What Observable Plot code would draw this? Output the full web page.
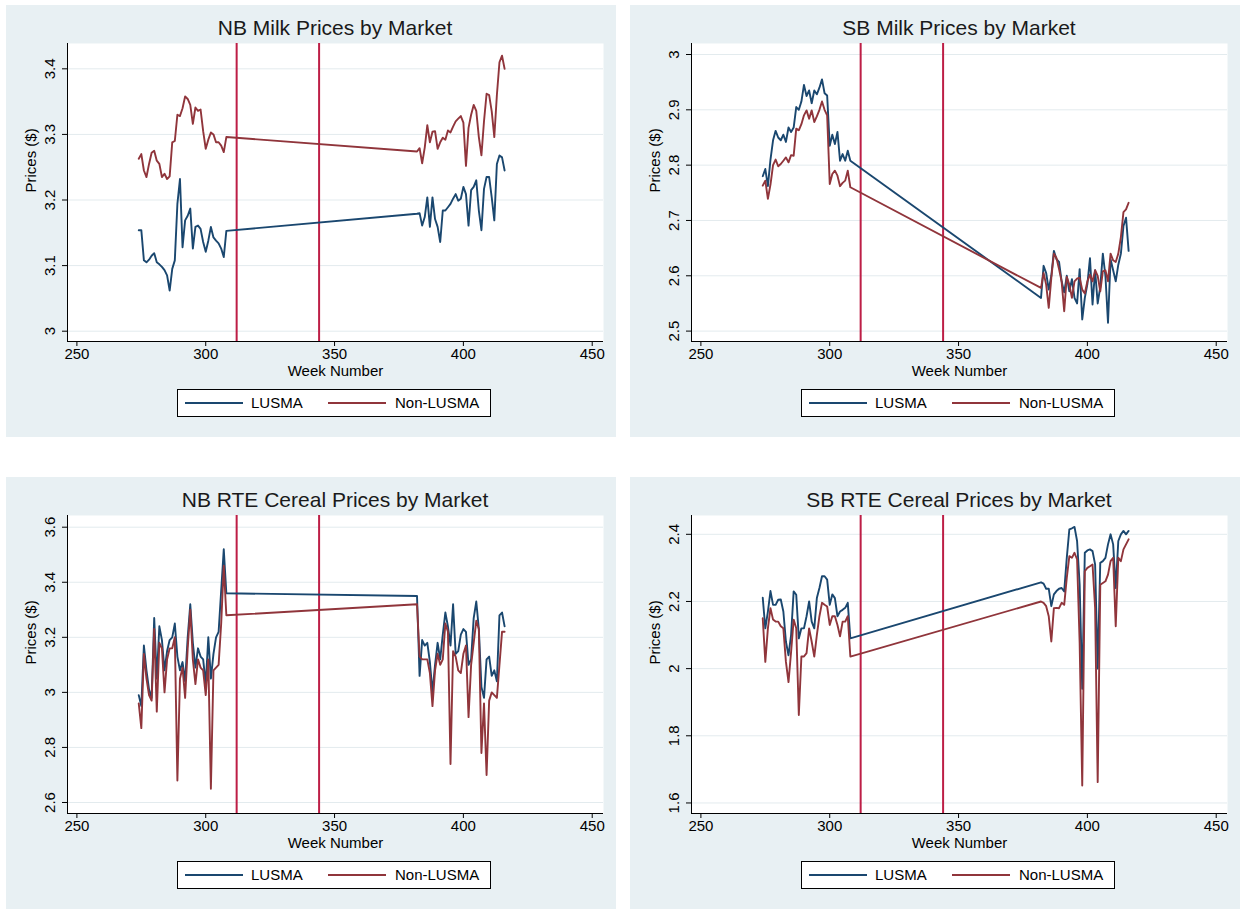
<!DOCTYPE html>
<html>
<head>
<meta charset="utf-8">
<script src="https://cdn.jsdelivr.net/npm/d3@7"></script>
<script src="https://cdn.jsdelivr.net/npm/@observablehq/plot@0.6"></script>
<style>
  html, body { margin: 0; padding: 0; background: #fff; }
  body { font-family: "Liberation Sans", Arial, sans-serif; }
  #root { position: relative; width: 1241px; height: 909px; background: #fff; overflow: hidden; }
  .panel { position: absolute; width: 610px; height: 432px; background: #e8f0f3; }
  .panel svg { position: absolute; left: 0; top: 0; display: block; }
  .title { position: absolute; left: 61px; width: 536px; top: 11px; text-align: center;
           font-size: 21px; line-height: 24px; color: #1a1a1a; }
  .legend { position: absolute; left: 171px; top: 384px; width: 312px; height: 26px;
            background: #fff; border: 1px solid #000; font-size: 15px; color: #000; }
  .legend .sw { position: absolute; top: 12px; width: 58px; height: 0; border-top: 2px solid; }
  .legend .lb { position: absolute; top: 4px; line-height: 18px; white-space: nowrap; }
</style>
</head>
<body>
<div id="root"></div>
<script>
// ---- data ----
const weeks = [274,275,276,277,278,279,280,281,282,283,284,285,286,287,288,289,290,291,292,293,294,295,296,297,298,299,300,301,302,303,304,305,306,307,308,
               382,383,384,385,386,387,388,389,390,391,392,393,394,395,396,397,398,399,400,401,402,403,404,405,406,407,408,409,410,411,412,413,414,415,416];

const markets = ["LUSMA", "Non-LUSMA"];
const eventWeeks = [312, 344];
const xTicks = [250, 300, 350, 400, 450];
const xLabel = "Week Number";
const yLabel = "Prices ($)";

const titles = ["NB Milk Prices by Market", "SB Milk Prices by Market", "NB RTE Cereal Prices by Market", "SB RTE Cereal Prices by Market"];

const nbMilkTicks = [3, 3.1, 3.2, 3.3, 3.4];
const sbMilkTicks = [2.5, 2.6, 2.7, 2.8, 2.9, 3];
const nbCerealTicks = [2.6, 2.8, 3, 3.2, 3.4, 3.6];
const sbCerealTicks = [1.6, 1.8, 2, 2.2, 2.4];

const nbMilkLusma = [3.154,3.154,3.108,3.105,3.109,3.115,3.119,3.105,3.102,3.098,3.093,3.085,3.062,3.095,3.108,3.194,3.232,3.128,3.169,3.176,3.187,3.126,3.159,3.161,3.156,3.136,3.121,3.138,3.159,3.143,3.138,3.134,3.126,3.113,3.153,
  3.179,3.180,3.161,3.174,3.204,3.159,3.204,3.171,3.159,3.136,3.184,3.184,3.189,3.194,3.202,3.209,3.199,3.202,3.220,3.209,3.161,3.215,3.220,3.230,3.184,3.154,3.217,3.235,3.235,3.204,3.169,3.255,3.268,3.265,3.245];
const nbMilkNon = [3.263,3.270,3.245,3.235,3.255,3.272,3.275,3.260,3.255,3.235,3.240,3.232,3.236,3.288,3.290,3.330,3.328,3.340,3.358,3.354,3.345,3.316,3.341,3.336,3.338,3.305,3.278,3.292,3.303,3.300,3.288,3.288,3.283,3.273,3.296,
  3.274,3.279,3.256,3.280,3.314,3.288,3.304,3.305,3.278,3.288,3.295,3.292,3.306,3.303,3.312,3.320,3.324,3.328,3.318,3.252,3.310,3.330,3.345,3.336,3.296,3.268,3.320,3.362,3.360,3.335,3.296,3.360,3.410,3.420,3.400];

const sbMilkLusma = [2.780,2.793,2.762,2.810,2.845,2.862,2.850,2.845,2.855,2.842,2.868,2.860,2.868,2.905,2.900,2.915,2.945,2.925,2.935,2.912,2.935,2.928,2.940,2.955,2.930,2.926,2.835,2.855,2.838,2.860,2.808,2.820,2.808,2.826,2.808,
  2.560,2.618,2.605,2.575,2.600,2.645,2.630,2.625,2.590,2.570,2.600,2.572,2.594,2.560,2.550,2.612,2.521,2.560,2.585,2.632,2.548,2.610,2.550,2.580,2.640,2.600,2.515,2.630,2.610,2.590,2.620,2.640,2.690,2.705,2.645];
const sbMilkNon = [2.763,2.772,2.739,2.765,2.800,2.810,2.798,2.802,2.808,2.814,2.805,2.818,2.817,2.866,2.863,2.874,2.890,2.899,2.884,2.899,2.878,2.888,2.900,2.915,2.900,2.890,2.766,2.784,2.790,2.781,2.762,2.768,2.772,2.790,2.760,
  2.578,2.605,2.584,2.542,2.596,2.640,2.632,2.612,2.590,2.536,2.598,2.584,2.560,2.590,2.595,2.596,2.575,2.568,2.590,2.602,2.590,2.610,2.600,2.572,2.608,2.610,2.590,2.640,2.628,2.625,2.640,2.670,2.715,2.720,2.732];

const nbCerealLusma = [2.99,2.95,3.17,3.08,3.01,2.98,3.27,3.05,3.24,3.19,3.08,3.15,3.19,3.20,3.25,3.13,3.08,3.11,3.04,3.20,3.32,3.18,3.09,3.16,3.13,3.12,3.03,3.20,3.05,3.14,3.20,3.22,3.37,3.52,3.36,
  3.35,3.06,3.19,3.17,3.18,3.11,3.00,3.10,3.18,3.12,3.21,3.29,3.24,3.17,3.32,3.14,3.15,3.21,3.23,3.22,3.10,3.12,3.27,3.33,3.23,3.02,2.98,3.12,3.13,3.06,3.08,3.04,3.28,3.29,3.24];
const nbCerealNon = [2.96,2.87,3.14,3.05,2.99,2.97,3.23,2.93,3.18,3.16,3.00,3.12,3.16,3.16,3.20,2.68,3.05,3.09,2.98,3.16,3.30,3.12,3.03,3.12,3.09,3.08,2.99,3.12,2.65,3.08,3.09,3.10,3.25,3.46,3.28,
  3.32,3.13,3.12,3.12,3.12,3.07,2.95,3.08,3.14,3.10,3.12,3.25,3.22,2.74,3.15,3.13,3.08,3.07,3.14,3.17,2.91,3.10,3.18,3.26,3.23,2.78,2.96,2.70,2.97,3.00,2.99,2.98,3.10,3.22,3.22];

const sbCerealLusma = [2.211,2.12,2.17,2.231,2.19,2.19,2.205,2.206,2.17,2.08,2.04,2.10,2.23,2.22,2.09,2.12,2.12,2.156,2.20,2.14,2.12,2.21,2.24,2.275,2.275,2.265,2.19,2.221,2.21,2.156,2.17,2.175,2.181,2.196,2.09,
  2.257,2.253,2.238,2.238,2.186,2.221,2.231,2.238,2.24,2.23,2.33,2.415,2.418,2.422,2.38,2.25,1.94,2.345,2.352,2.355,2.35,2.31,2.00,2.315,2.32,2.33,2.37,2.40,2.37,2.24,2.38,2.40,2.41,2.40,2.41];
const sbCerealNon = [2.15,2.02,2.12,2.18,2.146,2.14,2.14,2.126,2.12,2.02,1.96,2.05,2.146,2.12,1.862,2.036,2.036,2.046,2.12,2.08,2.036,2.10,2.156,2.196,2.19,2.185,2.13,2.156,2.156,2.13,2.096,2.14,2.14,2.156,2.036,
  2.20,2.196,2.186,2.156,2.081,2.18,2.181,2.18,2.196,2.19,2.27,2.335,2.33,2.345,2.325,2.076,1.652,2.29,2.30,2.305,2.31,2.18,1.662,2.25,2.255,2.26,2.28,2.32,2.33,2.126,2.33,2.32,2.355,2.37,2.385];

// ---- layout / style ----
const colors = ["#1a476f", "#90353b"];
const xDomain = [246.35, 454.38];
const panels = [
  {title: titles[0], lusma: nbMilkLusma, non: nbMilkNon, ticks: nbMilkTicks, yDomain: [2.9843, 3.4386], left: 6, top: 5},
  {title: titles[1], lusma: sbMilkLusma, non: sbMilkNon, ticks: sbMilkTicks, yDomain: [2.4812, 3.0199], left: 630, top: 5},
  {title: titles[2], lusma: nbCerealLusma, non: nbCerealNon, ticks: nbCerealTicks, yDomain: [2.560, 3.6425], left: 6, top: 477},
  {title: titles[3], lusma: sbCerealLusma, non: sbCerealNon, ticks: sbCerealTicks, yDomain: [1.5686, 2.4560], left: 630, top: 477}
];

const root = document.getElementById("root");
const fmt = d => String(+d.toFixed(2));

for (const p of panels) {
  const rows = [];
  for (const [m, series] of [[markets[0], p.lusma], [markets[1], p.non]]) {
    weeks.forEach((w, i) => rows.push({week: w, price: series[i], market: m}));
  }
  const div = document.createElement("div");
  div.className = "panel";
  div.style.left = p.left + "px";
  div.style.top = p.top + "px";

  const chart = Plot.plot({
    width: 610, height: 432,
    marginLeft: 61, marginRight: 13, marginTop: 38, marginBottom: 96,
    style: {background: "transparent", fontFamily: "'Liberation Sans', Arial, sans-serif", fontSize: "15px", color: "#000", overflow: "visible"},
    x: {domain: xDomain},
    y: {domain: p.yDomain},
    color: {domain: markets, range: colors},
    marks: [
      Plot.frame({fill: "white"}),
      Plot.gridY(p.ticks, {stroke: "#e3ebee", strokeOpacity: 1, strokeWidth: 1}),
      Plot.ruleX(eventWeeks, {stroke: "#bd1e46", strokeWidth: 2}),
      Plot.line(rows, {x: "week", y: "price", z: "market", stroke: "market", strokeWidth: 1.9}),
      Plot.ruleY([p.yDomain[0]], {stroke: "#000", strokeWidth: 1}),
      Plot.ruleX([xDomain[0]], {stroke: "#000", strokeWidth: 1}),
      Plot.axisX(xTicks, {tickSize: 5, tickPadding: 2, label: null, stroke: "#000", fill: "#000", tickFormat: fmt}),
      Plot.axisY(p.ticks, {tickSize: 5, tickRotate: -90, tickPadding: 8, label: null, stroke: "#000", fill: "#000", tickFormat: fmt}),
      Plot.text([xLabel], {text: d => d, frameAnchor: "bottom", dy: 34, fill: "#000"}),
      Plot.text([yLabel], {text: d => d, frameAnchor: "left", dx: -36, rotate: -90, fill: "#000"})
    ]
  });
  div.appendChild(chart);

  const t = document.createElement("div");
  t.className = "title";
  t.textContent = p.title;
  div.appendChild(t);

  const lg = document.createElement("div");
  lg.className = "legend";
  lg.innerHTML =
    `<div class="sw" style="left:7px;border-color:${colors[0]}"></div>` +
    `<div class="lb" style="left:73px">${markets[0]}</div>` +
    `<div class="sw" style="left:150px;border-color:${colors[1]}"></div>` +
    `<div class="lb" style="left:217px">${markets[1]}</div>`;
  div.appendChild(lg);

  root.appendChild(div);
}
</script>
</body>
</html>
